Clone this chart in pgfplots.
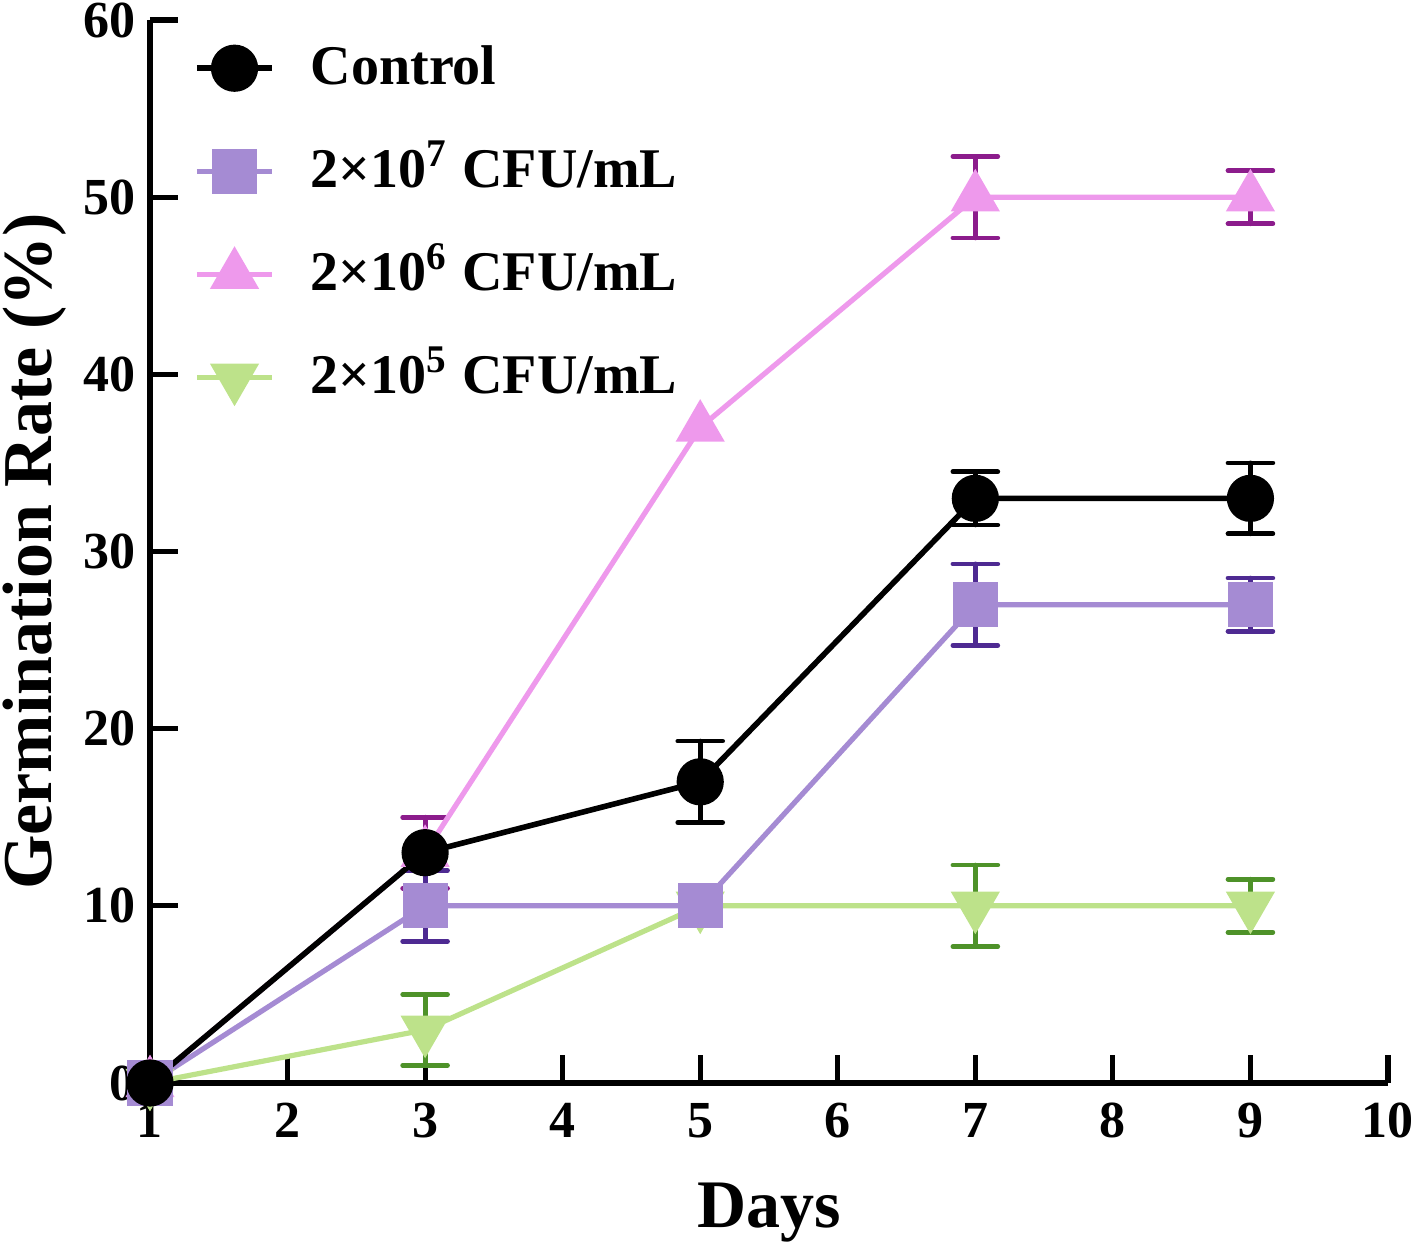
\documentclass[border=0pt]{standalone}
\usepackage{fontspec}
\setmainfont{Liberation Serif}
\usepackage{pgfplots}
\pgfplotsset{compat=1.18}
\definecolor{cPurple}{HTML}{A58BD3}
\definecolor{cPurpleE}{HTML}{4E2A92}
\definecolor{cPink}{HTML}{EE99EC}
\definecolor{cPinkE}{HTML}{8C1C8C}
\definecolor{cGreen}{HTML}{BDE28A}
\definecolor{cGreenE}{HTML}{4E9229}
\begin{document}
\begin{tikzpicture}
\begin{axis}[
  name=ax,
  scale only axis,
  width=309.5pt, height=265.75pt,
  xmin=1, xmax=10, ymin=0, ymax=60,
  xtick={1,...,10}, ytick={0,10,...,60},
  axis lines=left,
  axis line style={-, line width=1.3pt},
  x axis line style={-}, y axis line style={-},
  tick align=inside,
  major tick length=7pt,
  major tick style={line width=1.3pt, black},
  clip=false,
  /pgf/number format/assume math mode=true,
  tick label style={font=\bfseries\fontsize{13}{13}\selectfont},
  xticklabel style={yshift=-1.5pt},
  xlabel={Days},
  ylabel={Germination Rate (\%)},
  every axis x label/.style={at={(axis description cs:0.5,-0.122)}, anchor=center, font=\bfseries\fontsize{17}{17}\selectfont},
  every axis y label/.style={at={(axis description cs:-0.093,0.5)}, rotate=90, anchor=center, font=\bfseries\fontsize{17.5}{17.5}\selectfont},
  reverse legend,
  legend style={draw=none, fill=none, at={(axis description cs:0.035,0.978)}, anchor=north west,
    font=\bfseries\fontsize{14}{14}\selectfont, inner sep=0pt, row sep=13.8pt,
    nodes={inner sep=0pt, text height=10pt, text depth=2pt},
    /tikz/every odd column/.append style={column sep=9pt}},
  legend cell align=left,
  legend image code/.code={\draw[mark repeat=2,mark phase=2,#1] plot coordinates {(0pt,0pt) (9.4pt,0pt) (18.8pt,0pt)};},
]
% error bars
\addplot[draw=none, forget plot, error bars/.cd, y dir=both, y explicit,
  error bar style={draw=cGreenE, line width=1.2pt, line cap=round},
  error mark options={rotate=90, mark size=5.6pt, line width=1.2pt, draw=cGreenE, line cap=round}]
  coordinates {(3,3) +- (0,2) (7,10) +- (0,2.3) (9,10) +- (0,1.5)};
\addplot[draw=none, forget plot, error bars/.cd, y dir=both, y explicit,
  error bar style={draw=cPinkE, line width=1.2pt, line cap=round},
  error mark options={rotate=90, mark size=5.6pt, line width=1.2pt, draw=cPinkE, line cap=round}]
  coordinates {(3,13) +- (0,2) (7,50) +- (0,2.3) (9,50) +- (0,1.5)};
\addplot[draw=none, forget plot, error bars/.cd, y dir=both, y explicit,
  error bar style={draw=cPurpleE, line width=1.2pt, line cap=round},
  error mark options={rotate=90, mark size=5.6pt, line width=1.2pt, draw=cPurpleE, line cap=round}]
  coordinates {(3,10) +- (0,2) (7,27) +- (0,2.3) (9,27) +- (0,1.5)};
\addplot[draw=none, forget plot, error bars/.cd, y dir=both, y explicit,
  error bar style={draw=black, line width=1.2pt, line cap=round},
  error mark options={rotate=90, mark size=5.6pt, line width=1.2pt, draw=black, line cap=round}]
  coordinates {(5,17) +- (0,2.3) (7,33) +- (0,1.5) (9,33) +- (0,2)};
% lines
\addplot[cGreen, line width=1.3pt, mark=triangle*, mark size=5.8pt, mark options={rotate=180, fill=cGreen, draw=none}]
  coordinates {(1,0) (3,3) (5,10) (7,10) (9,10)};
\addlegendentry{2×10\textsuperscript{5} CFU/mL}
\addplot[cPink, line width=1.3pt, mark=triangle*, mark size=5.8pt, mark options={fill=cPink, draw=none}]
  coordinates {(1,0) (3,13) (5,37) (7,50) (9,50)};
\addlegendentry{2×10\textsuperscript{6} CFU/mL}
\addplot[cPurple, line width=1.3pt, mark=square*, mark size=5pt, mark options={fill=cPurple, draw=none}]
  coordinates {(1,0) (3,10) (5,10) (7,27) (9,27)};
\addlegendentry{2×10\textsuperscript{7} CFU/mL}
\addplot[black, line width=1.4pt, mark=*, mark size=5.2pt, mark options={fill=black, draw=none}]
  coordinates {(1,0) (3,13) (5,17) (7,33) (9,33)};
\addlegendentry{Control}
\end{axis}
\pgfresetboundingbox
\path[use as bounding box] ([xshift=-37.5pt,yshift=-43pt]ax.south west) rectangle ([xshift=316.5pt,yshift=270.75pt]ax.south west);
\end{tikzpicture}
\end{document}
